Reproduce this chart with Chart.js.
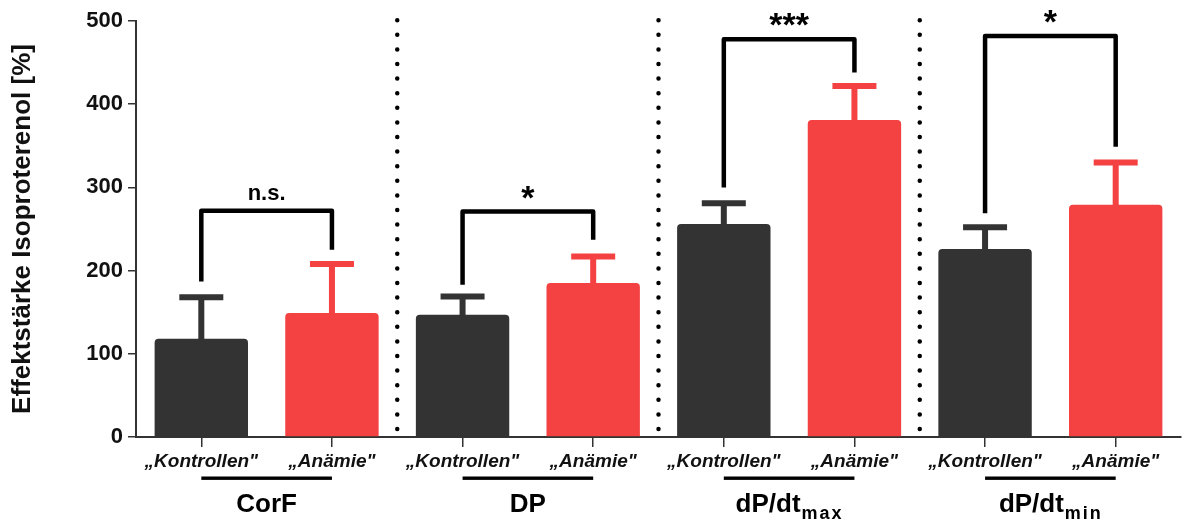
<!DOCTYPE html>
<html>
<head>
<meta charset="utf-8">
<script src="https://cdn.jsdelivr.net/npm/chart.js@4.4.1/dist/chart.umd.min.js"></script>
<style>
  html, body { margin: 0; padding: 0; background: #ffffff; }
  #wrap { width: 1184px; height: 521px; position: relative; }
</style>
</head>
<body>
<div id="wrap"><canvas id="c" width="1184" height="521"></canvas></div>
<script>
// ---- data ----
const groups = ['CorF', 'DP', 'dP/dt', 'dP/dt'];
const groupSubscripts = ['', '', 'max', 'min'];
const conditions = ['\u201EKontrollen"', '\u201EAn\u00E4mie"'];
const kontrollenMean = [118, 147, 256, 226];
const kontrollenUpper = [168, 169, 281, 252];
const anaemieMean = [149, 185, 381, 279];
const anaemieUpper = [208, 217, 422, 330];
const significance = ['n.s.', '*', '***', '*'];
const bracketTop = [272, 271, 478, 482];
const bracketLeftEnd = [187, 183, 300, 269];
const bracketRightEnd = [225, 237, 438, 349];
const yTicks = [0, 100, 200, 300, 400, 500];
const yTitle = 'Effektst\u00E4rke Isoproterenol [%]';

// ---- build ----
const FONT = "'Liberation Sans', Arial, sans-serif";
const DARK = '#333333';
const RED = '#F44141';
const labels = [], values = [], uppers = [], colors = [];
groups.forEach((g, i) => {
  labels.push(conditions[0]); values.push(kontrollenMean[i]); uppers.push(kontrollenUpper[i]); colors.push(DARK);
  labels.push(conditions[1]); values.push(anaemieMean[i]); uppers.push(anaemieUpper[i]); colors.push(RED);
});

const decorPlugin = {
  id: 'decor',
  beforeDatasetsDraw(chart) {
    const {ctx, chartArea} = chart;
    const x = chart.scales.x;
    ctx.save();
    ctx.strokeStyle = '#000';
    ctx.lineWidth = 4.5;
    ctx.lineCap = 'round';
    ctx.setLineDash([0, 14.6]);
    for (let i = 1; i < groups.length; i++) {
      const px = (x.getPixelForValue(2 * i - 1) + x.getPixelForValue(2 * i)) / 2;
      ctx.beginPath();
      ctx.moveTo(px, chartArea.bottom - 8);
      ctx.lineTo(px, 14);
      ctx.stroke();
    }
    ctx.restore();
  },
  afterDatasetsDraw(chart) {
    const {ctx, chartArea} = chart;
    const x = chart.scales.x, y = chart.scales.y;
    const meta = chart.getDatasetMeta(0);
    ctx.save();
    // error bars
    meta.data.forEach((bar, i) => {
      const top = y.getPixelForValue(uppers[i]);
      ctx.strokeStyle = colors[i];
      ctx.lineWidth = 6;
      ctx.lineCap = 'butt';
      ctx.beginPath();
      ctx.moveTo(bar.x, bar.y + 1);
      ctx.lineTo(bar.x, top);
      ctx.moveTo(bar.x - 22, top);
      ctx.lineTo(bar.x + 22, top);
      ctx.stroke();
    });
    // brackets
    ctx.strokeStyle = '#000';
    ctx.lineWidth = 4.5;
    ctx.lineJoin = 'round';
    ctx.lineCap = 'butt';
    groups.forEach((g, i) => {
      const xl = x.getPixelForValue(2 * i), xr = x.getPixelForValue(2 * i + 1);
      const yt = y.getPixelForValue(bracketTop[i]);
      ctx.beginPath();
      ctx.moveTo(xl, y.getPixelForValue(bracketLeftEnd[i]));
      ctx.lineTo(xl, yt);
      ctx.lineTo(xr, yt);
      ctx.lineTo(xr, y.getPixelForValue(bracketRightEnd[i]));
      ctx.stroke();
      const s = significance[i];
      ctx.fillStyle = '#000';
      ctx.textAlign = 'center';
      ctx.textBaseline = 'alphabetic';
      if (s.indexOf('*') >= 0) {
        ctx.font = 'bold 34px ' + FONT;
        ctx.fillText(s, (xl + xr) / 2, yt - 3);
      } else {
        ctx.font = 'bold 22px ' + FONT;
        ctx.fillText(s, (xl + xr) / 2, yt - 11);
      }
    });
    // group underline + labels
    groups.forEach((g, i) => {
      const xl = x.getPixelForValue(2 * i), xr = x.getPixelForValue(2 * i + 1);
      ctx.fillStyle = '#000';
      ctx.fillRect(xl, chartArea.bottom + 39.5, xr - xl, 3.4);
      const cx = (xl + xr) / 2;
      const by = chartArea.bottom + 75;
      ctx.font = 'bold 26px ' + FONT;
      const w1 = ctx.measureText(g).width;
      let w2 = 0;
      const sub = groupSubscripts[i];
      if (sub) {
        ctx.font = 'bold 18px ' + FONT;
        ctx.letterSpacing = '2px';
        w2 = ctx.measureText(sub).width;
        ctx.letterSpacing = '0px';
      }
      const start = cx - (w1 + w2) / 2;
      ctx.textAlign = 'left';
      ctx.textBaseline = 'alphabetic';
      ctx.font = 'bold 26px ' + FONT;
      ctx.fillText(g, start, by);
      if (sub) {
        ctx.font = 'bold 18px ' + FONT;
        ctx.letterSpacing = '2px';
        ctx.fillText(sub, start + w1 + 1, by + 7);
        ctx.letterSpacing = '0px';
      }
    });
    ctx.restore();
  }
};

new Chart(document.getElementById('c'), {
  type: 'bar',
  data: {
    labels: labels,
    datasets: [{
      data: values,
      backgroundColor: colors,
      borderWidth: 0,
      borderRadius: {topLeft: 4, topRight: 4, bottomLeft: 0, bottomRight: 0},
      borderSkipped: 'bottom',
      barPercentage: 0.715,
      categoryPercentage: 1.0
    }]
  },
  options: {
    responsive: false,
    animation: false,
    devicePixelRatio: 1,
    layout: { padding: { top: 21, right: 3, left: 0, bottom: 0 } },
    plugins: { legend: { display: false }, tooltip: { enabled: false }, title: { display: false } },
    scales: {
      x: {
        type: 'category',
        grid: { display: true, drawOnChartArea: false, drawTicks: true, tickLength: 10, offset: false, color: '#333', lineWidth: 1.5 },
        border: { display: true, color: '#333', width: 2 },
        ticks: { font: { family: FONT, size: 19, weight: 'bold', style: 'italic' }, color: '#111', padding: 3, maxRotation: 0, autoSkip: false },
        afterFit: s => { s.height = 84; }
      },
      y: {
        min: 0, max: 500,
        afterBuildTicks: s => { s.ticks = yTicks.map(v => ({ value: v })); },
        grid: { display: true, drawOnChartArea: false, drawTicks: true, tickLength: 8, color: '#333', lineWidth: 1.5 },
        border: { display: true, color: '#333', width: 2 },
        ticks: { font: { family: FONT, size: 22, weight: 'bold' }, color: '#111', padding: 5 },
        title: { display: true, text: yTitle, font: { family: FONT, size: 26, weight: 'bold' }, color: '#111', padding: { top: 7, bottom: 0 } },
        afterFit: s => { s.width = 136; }
      }
    }
  },
  plugins: [decorPlugin]
});
</script>
</body>
</html>
